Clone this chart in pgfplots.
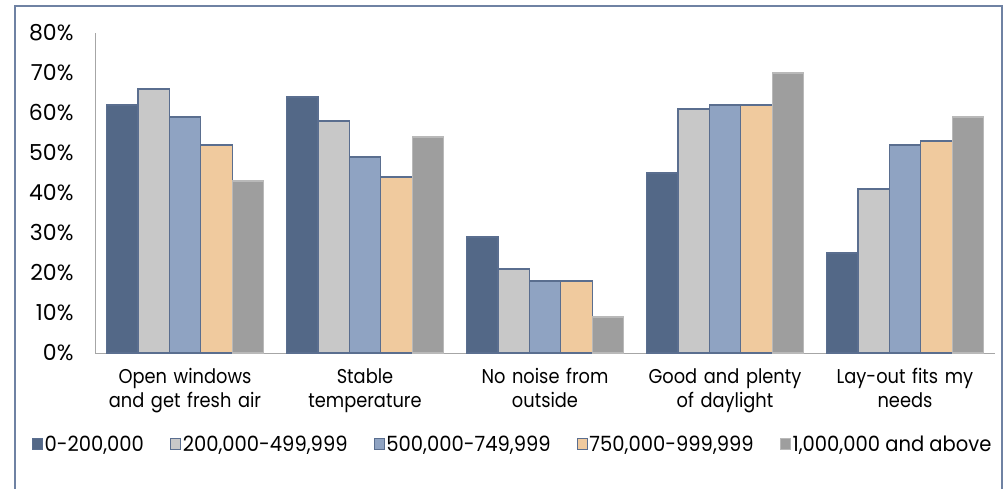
\documentclass[border=0pt]{standalone}
\usepackage{pgfplots}
\pgfplotsset{compat=1.18}
\usepackage{fontspec}
\setmainfont{Poppins}[FakeStretch=0.89]
\newfontfamily\legfont{Poppins}[FakeStretch=0.93]
\newfontfamily\tickfont{Poppins}

\definecolor{cA}{HTML}{536887}
\definecolor{cB}{HTML}{C8C8C8}
\definecolor{cC}{HTML}{8FA3C2}
\definecolor{cD}{HTML}{F0CA9E}
\definecolor{cE}{HTML}{9E9E9E}
\definecolor{edge}{HTML}{5A6E8F}
\definecolor{frame}{HTML}{6F82A3}

\begin{document}
\begin{tikzpicture}[x=1pt,y=1pt]
  \useasboundingbox (0,0) rectangle (1005,488);
  \draw[frame, line width=1.2pt] (15,-10) -- (15,482) -- (1002,482) -- (1002,-10);
  \begin{axis}[
      at={(95pt,135pt)}, anchor=south west,
      scale only axis,
      width=900pt, height=320pt,
      ybar=0pt, bar width=31.4pt,
      xmin=-0.5, xmax=4.5,
      ymin=0, ymax=80,
      ytick={0,10,...,80},
      yticklabel={\pgfmathprintnumber{\tick}\%},
      /pgf/number format/assume math mode=true,
      xtick=data,
      xticklabels={{Open windows\\and get fresh air},{Stable\\temperature},{No noise from\\outside},{Good and plenty\\of daylight},{Lay-out fits my\\needs}},
      xticklabel style={align=center, text width=175pt, font=\fontsize{20}{24}\selectfont, yshift=-12pt},
      yticklabel style={font=\tickfont\fontsize{22}{22}\selectfont, xshift=-18pt},
      axis x line*=bottom, axis y line*=left,
      axis line style={color=gray!70, line width=1pt, -},
      major tick length=0pt,
      clip=false,
      legend columns=5,
      legend style={draw=none, at={(0.464,-0.285)}, anchor=center,
        font=\legfont\fontsize{21}{22}\selectfont,
        /tikz/every even column/.append style={column sep=24pt}},
      legend image code/.code={\draw[#1, line width=0.8pt] (0pt,-5pt) rectangle (10pt,6pt);},
      legend cell align=left,
    ]
    \addplot[fill=cA, draw=edge, line width=1.2pt] coordinates {(0,62) (1,64) (2,29) (3,45) (4,25)};
    \addplot[fill=cB, draw=edge, line width=1.2pt] coordinates {(0,66) (1,58) (2,21) (3,61) (4,41)};
    \addplot[fill=cC, draw=edge, line width=1.2pt] coordinates {(0,59) (1,49) (2,18) (3,62) (4,52)};
    \addplot[fill=cD, draw=edge, line width=1.2pt] coordinates {(0,52) (1,44) (2,18) (3,62) (4,53)};
    \addplot[fill=cE, draw=gray!55, line width=1.2pt] coordinates {(0,43) (1,54) (2,9) (3,70) (4,59)};
    \legend{0-200{,}000, 200{,}000-499{,}999, 500{,}000-749{,}999, 750{,}000-999{,}999, 1{,}000{,}000 and above}
  \end{axis}
\end{tikzpicture}
\end{document}
